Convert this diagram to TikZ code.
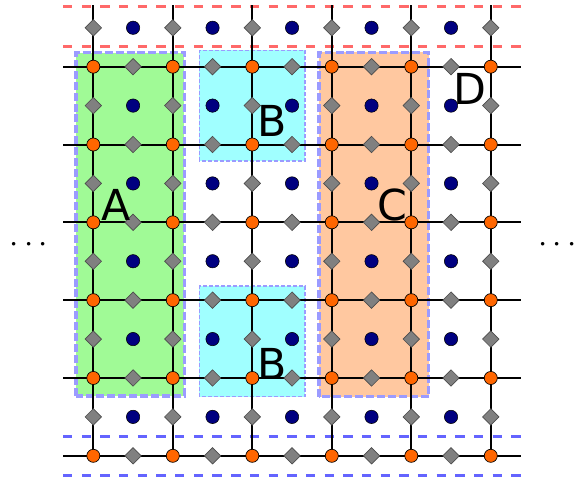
\documentclass[tikz,border=0pt]{standalone}
\usepackage{fontspec}
\setmainfont{DejaVu Sans}
\usetikzlibrary{shapes.geometric}
\definecolor{siteorange}{RGB}{255,102,0}
\definecolor{sitenavy}{RGB}{0,0,128}
\definecolor{linkgray}{RGB}{128,128,128}
\definecolor{regA}{RGB}{160,250,150}
\definecolor{regB}{RGB}{160,255,255}
\definecolor{regC}{RGB}{255,200,160}
\definecolor{regedge}{RGB}{155,155,255}
\definecolor{bandred}{RGB}{255,105,105}
\definecolor{bandblue}{RGB}{100,100,255}
\begin{document}
\begin{tikzpicture}[x=59.6pt, y=58.35pt,
          bond/.style={draw=black, line width=1.5pt},
          vtx/.style={circle, draw=black, line width=0.5pt, fill=siteorange, minimum size=9.8pt, inner sep=0pt},
          plaq/.style={circle, draw=black, line width=0.4pt, fill=sitenavy, minimum size=10pt, inner sep=0pt},
          link/.style={diamond, aspect=1, draw=black!70, line width=0.5pt, fill=linkgray, minimum size=12.5pt, inner sep=0pt},
          region/.style={draw=regedge, line width=2.5pt, dash pattern=on 6pt off 2.2pt},
          subregion/.style={draw=regedge, line width=1pt, dash pattern=on 3pt off 1.5pt},
          band/.style={line width=2pt, dash pattern=on 7pt off 7pt},
          lbl/.style={font=\fontsize{32}{38}\selectfont, inner sep=0pt},
          etc/.style={font=\fontsize{36}{40}\selectfont, inner sep=0pt, anchor=base}]
        \useasboundingbox (-1.174,-0.325) rectangle (6.135,5.857);
        % regions A, B, C
        \path[region, fill=regA] (-0.218,0.77) rectangle (1.147,5.18);
        \path[subregion, fill=regB] (1.333,3.79) rectangle (2.663,5.21);
        \path[subregion, fill=regB] (1.333,0.76) rectangle (2.663,2.18);
        \path[region, fill=regC] (2.839,0.76) rectangle (4.218,5.185);
        % boundary bands
        \draw[band, bandred] (-0.38,5.771) -- (5.38,5.771);
        \draw[band, bandred] (-0.38,5.257) -- (5.38,5.257);
        \draw[band, bandblue] (-0.38,0.25) -- (5.38,0.25);
        \draw[band, bandblue] (-0.38,-0.25) -- (5.38,-0.25);
        % lattice
        \foreach \i in {0,...,5}
          \foreach \j in {0,...,5}
            \coordinate (g-\i-\j) at (\i,\j);
        \foreach \j in {0,...,5} {
          \coordinate (w-\j) at (-0.38,\j);
          \coordinate (e-\j) at (5.38,\j);
          \draw[bond] (w-\j) -- (e-\j);
        }
        \foreach \i in {0,...,5} {
          \coordinate (n-\i) at (\i,5.79);
          \draw[bond] (g-\i-0) -- (n-\i);
        }
        \foreach \i in {0,...,4}
          \foreach \j in {0,...,5} {
            \node[plaq] (p-\i-\j) at (\i+0.5,\j+0.5) {};
            \node[link] (h-\i-\j) at (\i+0.5,\j) {};
          }
        \foreach \i in {0,...,5}
          \foreach \j in {0,...,5}
            \node[link] (u-\i-\j) at (\i,\j+0.5) {};
        \foreach \i in {0,...,5}
          \foreach \j in {0,...,5}
            \node[vtx] (v-\i-\j) at (g-\i-\j) {};
        % labels
        \node[lbl] (labA) at (0.287,3.222) {A};
        \node[lbl] (labB1) at (2.248,4.302) {B};
        \node[lbl] (labB2) at (2.248,1.179) {B};
        \node[lbl] (labC) at (3.757,3.222) {C};
        \node[lbl] (labD) at (4.738,4.713) {D};
        \node[etc] (ldots) at (-0.809,2.614) {${\cdot}\mkern2.9mu{\cdot}\mkern2.9mu{\cdot}$};
        \node[etc] (rdots) at (5.839,2.614) {${\cdot}\mkern2.9mu{\cdot}\mkern2.9mu{\cdot}$};
      \end{tikzpicture}
\end{document}
